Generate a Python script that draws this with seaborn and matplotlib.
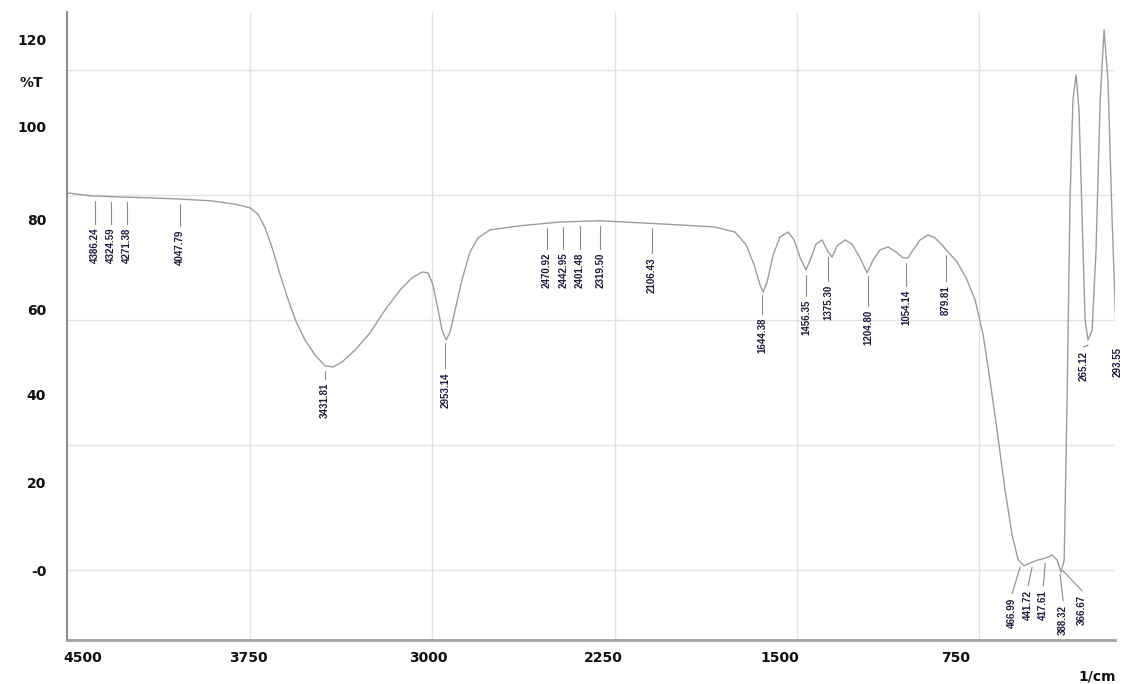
import numpy as np
import pandas as pd
import seaborn as sns
from matplotlib import pyplot as plt

# espectro (numero de onda en 1/cm, transmitancia en %T)
numero_onda = [4500, 4405, 4282, 4159, 4036, 3912, 3810, 3748, 3715, 3686,
               3657, 3624, 3591, 3558, 3522, 3481, 3440, 3407, 3370, 3316,
               3255, 3193, 3131, 3082, 3041, 3016, 2996, 2975, 2959, 2942,
               2926, 2905, 2877, 2844, 2811, 2762, 2638, 2474, 2309, 2145,
               1981, 1837, 1755, 1709, 1676, 1652, 1639, 1623, 1598, 1570,
               1537, 1512, 1487, 1463, 1442, 1422, 1397, 1372, 1356, 1335,
               1302, 1274, 1241, 1212, 1187, 1159, 1126, 1093, 1064, 1044,
               1023, 994, 961, 933, 904, 879, 842, 805, 768, 735,
               707, 678, 645, 616, 591, 567, 542, 509, 476, 452,
               431, 415, 402, 390, 378, 366, 353, 341, 328, 316,
               304, 287, 271, 254, 238, 222, 205, 189, 172]
transmitancia = [90.5, 89.8, 89.5, 89.3, 89.0, 88.6, 87.8, 86.9, 85.4, 82.1,
                 77.3, 70.8, 64.8, 59.5, 55.2, 51.6, 49.0, 48.7, 49.9, 52.8,
                 56.9, 62.4, 67.2, 70.1, 71.5, 71.3, 68.4, 62.4, 57.6, 55.2,
                 57.1, 62.4, 69.6, 76.3, 79.7, 81.6, 82.6, 83.5, 83.8, 83.3,
                 82.8, 82.3, 81.1, 78.0, 73.2, 68.4, 66.7, 69.1, 75.6, 79.9,
                 81.1, 79.2, 74.9, 72.0, 74.9, 78.2, 79.2, 76.3, 75.1, 77.8,
                 79.2, 78.2, 74.9, 71.3, 74.4, 76.8, 77.5, 76.3, 74.9, 74.9,
                 76.8, 79.2, 80.4, 79.7, 78.0, 76.3, 73.9, 70.1, 64.8, 56.4,
                 45.6, 33.6, 19.2, 8.4, 2.4, 1.0, 1.7, 2.4, 2.9, 3.6,
                 2.4, -0.5, 2.4, 40.8, 88.8, 112.8, 118.8, 110.4, 84.0, 60.0,
                 55.2, 57.6, 76.8, 112.8, 129.6, 117.6, 84.0, 57.6, 55.7]

# etiquetas de picos
pico_texto = ["4386.24", "4324.59", "4271.38", "4047.79", "3431.81", "2953.14",
              "2470.92", "2442.95", "2401.48", "2319.50", "2106.43", "1644.38",
              "1456.35", "1375.30", "1204.80", "1054.14", "879.81", "466.99",
              "441.72", "417.61", "388.32", "366.67", "265.12", "293.55"]
pico_x = [4385, 4319, 4253, 4036, 3440, 2946, 2527, 2461, 2392, 2309, 2096, 1643,
          1463, 1372, 1208, 1052, 887, 616, 550, 488, 406, 328, 324, 184]
pico_ancla = [4385, 4319, 4253, 4036, 3440, 2946, 2527, 2461, 2392, 2309, 2096, 1643,
              1463, 1372, 1208, 1052, 887, 583, 534, 480, 419, 408, 304, 189]
pico_arriba = [82.1, 82.1, 82.1, 81.6, 44.9, 47.5, 76.1, 76.1, 76.1, 76.1, 75.1, 60.5,
               64.8, 68.4, 62.4, 67.2, 68.4, -6.7, -4.8, -4.8, -8.4, -6.0, 52.5, 53.5]

ticks_x = [4434, 3756, 3016, 2297, 1570, 850]
ticks_x_texto = ["4500", "3750", "3000", "2250", "1500", "750"]
ticks_y = [0, 21.1, 42, 62.6, 84.2, 106.3, 127.4]
ticks_y_texto = ["-0", "20", "40", "60", "80", "100", "120"]
grilla_x = [3750, 3000, 2250, 1500, 750]
grilla_y = [0, 30, 60, 90, 120]


def plottear_espectro():
    sns.set_theme(style="white")
    fig = plt.figure(figsize=(11.23, 6.84), dpi=100)
    ax = fig.add_axes([0.0597, 0.0643, 0.9332, 0.9182])

    for g in grilla_x:
        ax.axvline(g, color="#e2e2e2", lw=1.0, zorder=0)
    for g in grilla_y:
        ax.axhline(g, color="#e2e2e2", lw=1.0, zorder=0)

    df = pd.DataFrame(data={"numero_onda": numero_onda, "transmitancia": transmitancia})
    sns.lineplot(data=df, x="numero_onda", y="transmitancia", sort=False,
                 color="#9c9c9c", linewidth=1.0, ax=ax)

    ax.set_xlim(4500, 193)
    ax.set_ylim(-16.8, 133.9)

    # lineas guia y valores de los picos
    x_asc = np.array(numero_onda[::-1], dtype=float)
    y_asc = np.array(transmitancia[::-1], dtype=float)
    for texto, x, ancla, arriba in zip(pico_texto, pico_x, pico_ancla, pico_arriba):
        y_curva = np.interp(ancla, x_asc, y_asc)
        ax.plot([ancla, x], [y_curva - 1.2, arriba + 1.0], color="#8a8a8a", lw=0.8)
        ax.text(x, arriba, texto, rotation=90, ha="center", va="top", fontsize=7,
                fontweight="bold", family="Liberation Sans", color="#1c1c3a",
                clip_on=False)

    ax.set_xticks(ticks_x, ticks_x_texto)
    ax.set_yticks(ticks_y, ticks_y_texto)
    ax.tick_params(length=0, labelsize=10, colors="#111111")
    ax.tick_params(axis="y", pad=15)
    ax.tick_params(axis="x", pad=8)
    for lab in ax.get_xticklabels() + ax.get_yticklabels():
        lab.set_fontweight("bold")
    ax.set_xlabel("")
    ax.set_ylabel("")

    ax.spines["top"].set_visible(False)
    ax.spines["right"].set_visible(False)
    ax.spines["left"].set_color("#808080")
    ax.spines["left"].set_linewidth(1.3)
    ax.spines["bottom"].set_color("#a0a0a0")
    ax.spines["bottom"].set_linewidth(2.0)

    fig.text(43 / 1123, 1 - 83 / 684, "%T", ha="right", va="center",
             fontsize=10, fontweight="bold", color="#111111")
    fig.text(1097 / 1123, 1 - 677 / 684, "1/cm", ha="center", va="center",
             fontsize=10, fontweight="bold", color="#111111")

    fig.savefig("out.png", dpi=100)


plottear_espectro()
